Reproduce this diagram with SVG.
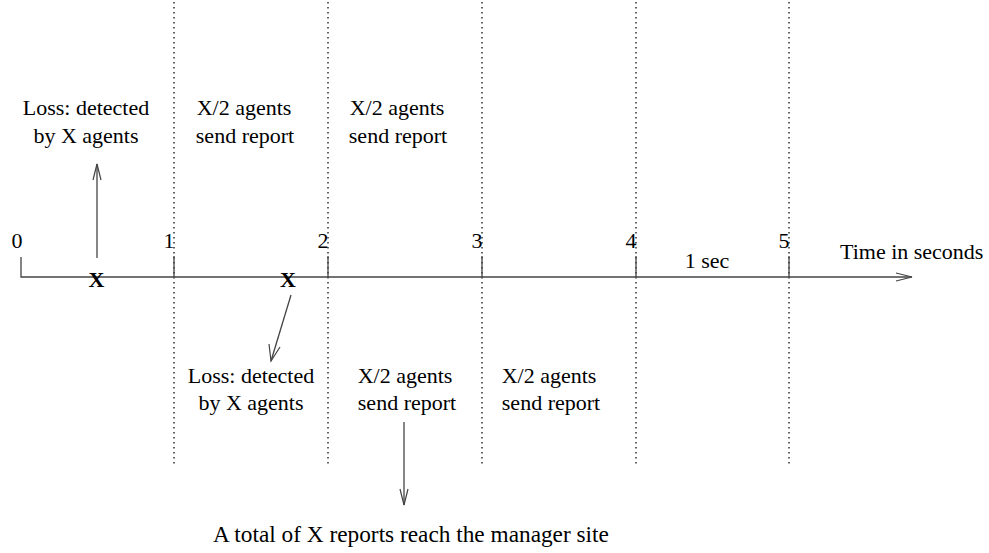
<svg xmlns="http://www.w3.org/2000/svg" width="989" height="553" viewBox="0 0 989 553">
<style>
text{font-family:"Liberation Serif","Times New Roman",serif;font-size:22px;fill:#000}
.m{text-anchor:middle}
.x{font-weight:bold;font-size:22px;text-anchor:middle}
.big{font-size:23.3px}
.ln{stroke:#444;stroke-width:1.3;fill:none}
.dot{stroke:#222;stroke-width:1.4;stroke-dasharray:1.4,3.6;fill:none}
.ah{stroke:#444;stroke-width:1.2;fill:none}
</style>
<rect width="989" height="553" fill="#fff"/>
<g id="grid">
<line class="dot" x1="174" y1="2" x2="174" y2="466"/>
<line class="dot" x1="328" y1="2" x2="328" y2="466"/>
<line class="dot" x1="482" y1="2" x2="482" y2="466"/>
<line class="dot" x1="636" y1="2" x2="636" y2="466"/>
<line class="dot" x1="789" y1="2" x2="789" y2="466"/>
</g>
<g id="axis">
<polyline class="ln" points="21,257 21,277 912,277"/>
<polyline class="ah" points="896,273 912,277 896,281"/>
<line class="ln" x1="174" y1="256" x2="174" y2="277"/>
<line class="ln" x1="328" y1="256" x2="328" y2="277"/>
<line class="ln" x1="482" y1="256" x2="482" y2="277"/>
<line class="ln" x1="636" y1="256" x2="636" y2="277"/>
<line class="ln" x1="789" y1="256" x2="789" y2="277"/>
<text class="m" x="17" y="248">0</text>
<text class="m" x="169" y="248">1</text>
<text class="m" x="323" y="248">2</text>
<text class="m" x="477" y="248">3</text>
<text class="m" x="631" y="248">4</text>
<text class="m" x="784" y="248">5</text>
<text x="840" y="259">Time in seconds</text>
<text class="m" x="707" y="268">1 sec</text>
</g>
<g id="loss1">
<text class="x" x="96.5" y="287">X</text>
<text class="m" x="86" y="115">Loss: detected</text>
<text class="m" x="86" y="143">by X agents</text>
</g>
<g id="loss2">
<text class="x" x="288" y="287">X</text>
<text class="m" x="251" y="383">Loss: detected</text>
<text class="m" x="251" y="410">by X agents</text>
</g>
<g id="send1">
<text class="m" x="244" y="115">X/2 agents</text>
<text class="m" x="245" y="143">send report</text>
</g>
<g id="send2">
<text class="m" x="397" y="115">X/2 agents</text>
<text class="m" x="398" y="143">send report</text>
</g>
<g id="send3">
<text class="m" x="405" y="383">X/2 agents</text>
<text class="m" x="407" y="410">send report</text>
</g>
<g id="send4">
<text class="m" x="549" y="383">X/2 agents</text>
<text class="m" x="551" y="410">send report</text>
</g>
<g id="total">
<text class="big" x="213" y="542">A total of X reports reach the manager site</text>
</g>
<g id="connectors">
<line class="ln" x1="97" y1="258" x2="97" y2="164"/>
<polyline class="ah" points="93,180 97,164 101,180"/>
<line class="ln" x1="291" y1="295" x2="271" y2="361"/>
<polyline class="ah" points="269,344 271,361 280,347"/>
<line class="ln" x1="404" y1="422" x2="404" y2="505"/>
<polyline class="ah" points="400,489 404,505 408,489"/>
</g>
</svg>
